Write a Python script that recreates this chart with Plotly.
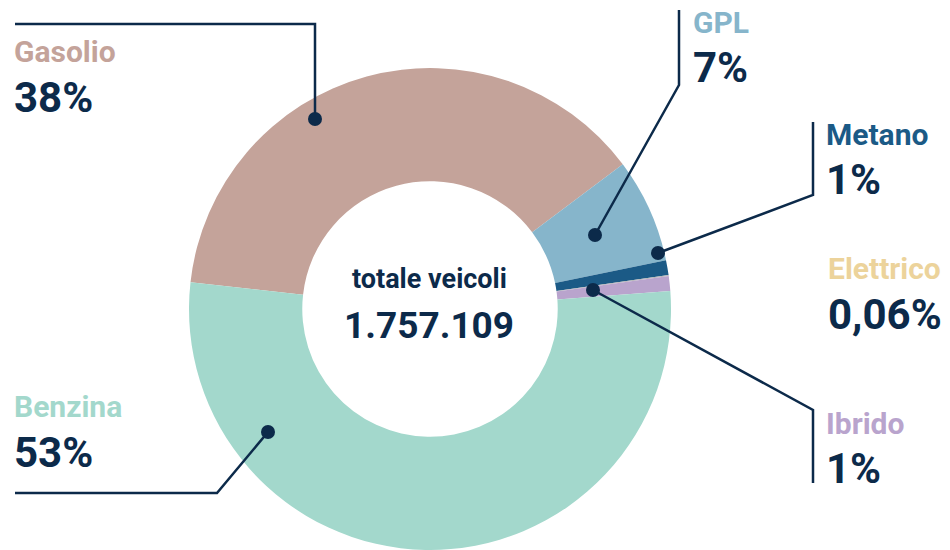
import plotly.graph_objects as go

# Vehicle fleet by fuel type (share, %)
fuels = ["Gasolio", "GPL", "Metano", "Elettrico", "Ibrido", "Benzina"]
shares = [38, 7, 1, 0.06, 1, 53]
share_labels = ["38%", "7%", "1%", "0,06%", "1%", "53%"]
slice_colors = ["#c4a39a", "#86b5cb", "#1b5a86", "#b3b3b3", "#b9a4cd", "#a3d8cc"]
name_colors = ["#c4a39a", "#86b5cb", "#1b5a86", "#ecd39b", "#b9a4cd", "#a3d8cc"]
total_label = "1.757.109"

NAVY = "#0c2a4a"
W, H = 950, 550
FONT = "Roboto"


def px(x, y):
    """Pixel position (from top-left) to paper coordinates."""
    return x / W, 1 - y / H


# label placement: left edge x, cap-centre y for name and value
label_pos = {
    "Gasolio": (12, 52, 97),
    "GPL": (691, 22, 67),
    "Metano": (824, 134, 179),
    "Elettrico": (826, 268, 314),
    "Ibrido": (824, 423, 468),
    "Benzina": (12, 406, 452),
}

# leader lines: polyline points, last one carries the dot
leaders = {
    "Gasolio": [(15, 24), (315, 24), (315, 119)],
    "GPL": [(679, 10), (679, 85), (595, 235)],
    "Metano": [(813, 122), (813, 195), (658, 253)],
    "Ibrido": [(813, 483), (813, 410), (593, 290)],
    "Benzina": [(15, 493), (217, 493), (268, 432)],
}

fig = go.Figure(
    go.Pie(
        labels=fuels,
        values=shares,
        sort=False,
        direction="clockwise",
        rotation=276.4,
        hole=0.53,
        marker=dict(colors=slice_colors, line=dict(color="white", width=0)),
        textinfo="none",
        hoverinfo="label+percent",
        showlegend=False,
        domain=dict(x=[430 / W - 241 / W, 430 / W + 241 / W], y=[0, 482 / H]),
    )
)

shapes = []
for name, pts in leaders.items():
    path = "M " + " L ".join(f"{px(x, y)[0]:.5f},{px(x, y)[1]:.5f}" for x, y in pts)
    shapes.append(dict(type="path", xref="paper", yref="paper", path=path,
                       line=dict(color=NAVY, width=2.5)))
    dx, dy = pts[-1]
    r = 7
    x0, y0 = px(dx - r, dy + r)
    x1, y1 = px(dx + r, dy - r)
    shapes.append(dict(type="circle", xref="paper", yref="paper",
                       x0=x0, y0=y0, x1=x1, y1=y1,
                       fillcolor=NAVY, line=dict(color=NAVY, width=0)))

annotations = []
for name, val, ncol in zip(fuels, share_labels, name_colors):
    lx, ny, vy = label_pos[name]
    x, y = px(lx, ny)
    annotations.append(dict(x=x, y=y, xref="paper", yref="paper", text=f"<b>{name}</b>",
                            showarrow=False, xanchor="left", yanchor="middle",
                            font=dict(family=FONT, size=30, color=ncol)))
    x, y = px(lx, vy)
    annotations.append(dict(x=x, y=y, xref="paper", yref="paper", text=f"<b>{val}</b>",
                            showarrow=False, xanchor="left", yanchor="middle",
                            font=dict(family=FONT, size=42, color=NAVY)))

x, y = px(429, 279)
annotations.append(dict(x=x, y=y, xref="paper", yref="paper", text="<b>totale veicoli</b>",
                        showarrow=False, xanchor="center", yanchor="middle",
                        font=dict(family=FONT, size=27, color=NAVY)))
x, y = px(429, 325)
annotations.append(dict(x=x, y=y, xref="paper", yref="paper", text=f"<b>{total_label}</b>",
                        showarrow=False, xanchor="center", yanchor="middle",
                        font=dict(family=FONT, size=37, color=NAVY)))

fig.update_layout(
    width=W, height=H,
    margin=dict(l=0, r=0, t=0, b=0),
    paper_bgcolor="white",
    plot_bgcolor="white",
    shapes=shapes,
    annotations=annotations,
)

fig.write_html("out.html")
